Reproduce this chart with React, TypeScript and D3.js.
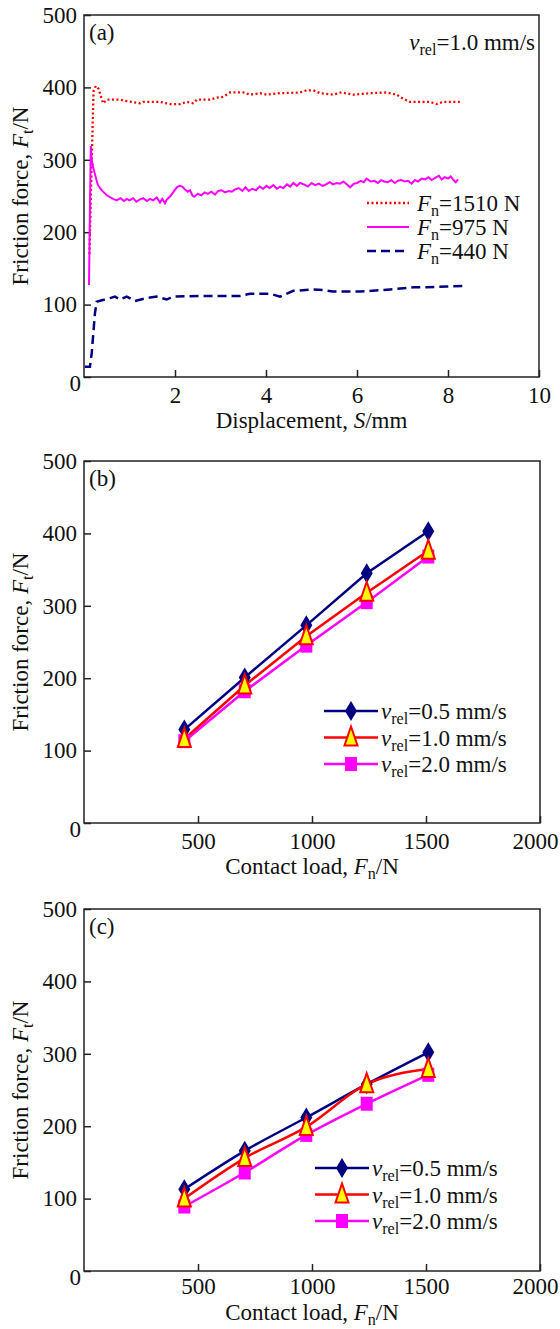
import React, { useEffect, useRef } from 'react';
import * as d3 from 'd3';

// (a) friction force vs displacement at v_rel = 1.0 mm/s
const redDisp = [0.12, 0.17, 0.21, 0.26, 0.32, 0.42, 0.5, 0.79, 0.94, 1.23, 1.3, 1.67, 1.89, 2.11, 2.26, 2.4, 2.48, 2.77, 2.92, 3.06, 3.21, 3.5, 3.65, 3.87, 4.01, 4.31, 4.75, 4.89, 5.04, 5.19, 5.47, 5.66, 5.92, 6.29, 6.65, 6.87, 7.0, 7.16, 7.6, 7.75, 7.89, 8.26];
const redForce = [170, 300, 395, 402, 398, 378, 383, 383, 381, 378, 380, 380, 377, 377, 380, 378, 383, 383, 386, 387, 393, 393, 390, 392, 390, 392, 393, 396, 396, 392, 390, 393, 390, 392, 393, 390, 385, 380, 380, 377, 380, 380];

const pinkDisp = [
  0.11, 0.13, 0.15, 0.17, 0.2, 0.25, 0.3, 0.36, 0.42, 0.5,
  0.58, 0.64, 0.72, 0.8, 0.88, 0.94, 1.0, 1.08, 1.15, 1.22,
  1.3, 1.38, 1.45, 1.52, 1.6, 1.67, 1.72, 1.78, 1.82, 1.9,
  1.97, 2.04, 2.1, 2.16, 2.22, 2.28, 2.33, 2.38, 2.42, 2.5,
  2.58, 2.65, 2.72, 2.8, 2.88, 2.95, 3.02, 3.1, 3.18, 3.25,
  3.32, 3.4, 3.48, 3.55, 3.62, 3.7, 3.78, 3.86, 3.94, 4.01,
  4.08, 4.16, 4.24, 4.31, 4.38, 4.46, 4.53, 4.6, 4.68, 4.75,
  4.83, 4.92, 5.0, 5.08, 5.16, 5.24, 5.32, 5.4, 5.47, 5.55,
  5.63, 5.7, 5.78, 5.85, 5.93, 6.0, 6.08, 6.15, 6.21, 6.3,
  6.38, 6.46, 6.53, 6.6, 6.68, 6.75, 6.83, 6.9, 6.97, 7.05,
  7.12, 7.2, 7.27, 7.34, 7.42, 7.5, 7.57, 7.64, 7.72, 7.8,
  7.86, 7.93, 8.0, 8.06, 8.12, 8.17, 8.22,
];
const pinkForce = [
  127, 230, 319, 300, 290, 278, 266, 260, 256, 251,
  248, 246, 244, 247, 243, 246, 244, 247, 242, 245,
  247, 243, 246, 244, 248, 241, 246, 240, 245, 250,
  256, 262, 264, 263, 259, 256, 258, 251, 249, 253,
  251, 255, 253, 256, 252, 257, 258, 255, 257, 256,
  259, 261, 257, 262, 257, 260, 258, 263, 260, 264,
  261, 265, 260, 263, 261, 266, 263, 268, 264, 268,
  266, 263, 268, 265, 267, 264, 266, 269, 266, 268,
  267, 270, 266, 262, 267, 268, 271, 269, 274, 270,
  271, 268, 272, 270, 269, 272, 268, 271, 272, 270,
  271, 267, 272, 270, 274, 273, 276, 272, 275, 278,
  273, 276, 274, 277, 272, 269, 273,
];

const navyDisp = [0.02, 0.13, 0.17, 0.24, 0.28, 0.39, 0.57, 0.68, 0.79, 0.94, 1.12, 1.38, 1.6, 1.82, 1.96, 2.55, 3.43, 3.65, 4.09, 4.31, 4.6, 5.04, 5.26, 5.47, 6.07, 6.73, 7.24, 7.53, 7.97, 8.41];
const navyForce = [14, 14, 33, 88, 104, 106, 109, 111, 107, 111, 105, 109, 111, 107, 111, 112, 112, 115, 115, 111, 119, 121, 120, 118, 118, 121, 124, 124, 125, 126];

const dispTicks = [2, 4, 6, 8, 10];
const forceTicks = [0, 100, 200, 300, 400, 500];
const loadTicks = [500, 1000, 1500, 2000];

// (b) and (c) friction force vs contact load
const loads = [440, 705, 975, 1240, 1510];
const b05 = [129, 201, 273, 345, 403];
const b10 = [116, 190, 258, 318, 376];
const b20 = [113, 182, 245, 305, 368];
const c05 = [113, 166, 212, 258, 302];
const c10 = [100, 156, 199, 258, 279];
const c20 = [89, 136, 188, 231, 271];

const FONT = '"Liberation Serif", "Times New Roman", serif';
const NAVY = '#000080';
const RED = '#ff0000';
const PINK = '#ff00ff';
const YELLOW = '#ffff00';
const FS = 23;

type Part = { t: string; it?: boolean; sub?: boolean };

function rich(text: any, parts: Part[]) {
  let down = false;
  parts.forEach((p) => {
    const ts = text.append('tspan').text(p.t);
    if (p.it) ts.attr('font-style', 'italic');
    if (p.sub) {
      ts.attr('font-size', FS * 0.7).attr('dy', FS * 0.22);
      down = true;
    } else if (down) {
      ts.attr('dy', -FS * 0.22);
      down = false;
    }
  });
}

const markerPath: Record<string, string> = {
  diamond: 'M0,-10L6,0L0,10L-6,0Z',
  tri: 'M0,-11L6.5,8L-6.5,8Z',
  square: 'M-6,-7H6V7H-6Z',
};

function drawFrame(svg: any, x: any, y: any, xTicks: number[], xTitle: Part[], tag: string, titleGap = 51, pad = 10) {
  const [x0, x1] = x.range();
  const [y0, y1] = y.range();

  const gx = svg.append('g')
    .attr('transform', `translate(0,${y0})`)
    .call(d3.axisBottom(x).tickValues(xTicks).tickFormat(d3.format('d')).tickSizeInner(-7).tickSizeOuter(0).tickPadding(pad));
  const gy = svg.append('g')
    .attr('transform', `translate(${x0},0)`)
    .call(d3.axisLeft(y).tickValues(forceTicks).tickSizeInner(-7).tickSizeOuter(0).tickPadding(7));

  [gx, gy].forEach((g) => {
    g.select('.domain').remove();
    g.selectAll('line').attr('stroke', '#222').attr('stroke-width', 1.5);
    g.selectAll('text').attr('font-family', FONT).attr('font-size', FS).attr('fill', '#111');
  });
  // corner "0" sits a bit low
  gy.selectAll('.tick text').filter((d: number) => d === 0).attr('dx', 4).attr('dy', '0.6em');
  gx.selectAll('.tick text').filter((d: number) => d === 2000).attr('dx', -5);

  svg.append('rect')
    .attr('x', x0).attr('y', y1)
    .attr('width', x1 - x0).attr('height', y0 - y1)
    .attr('fill', 'none').attr('stroke', '#222').attr('stroke-width', 1.5);

  const xt = svg.append('text')
    .attr('x', (x0 + x1) / 2).attr('y', y0 + titleGap)
    .attr('text-anchor', 'middle')
    .attr('font-family', FONT).attr('font-size', FS).attr('fill', '#111');
  rich(xt, xTitle);

  const yt = svg.append('text')
    .attr('transform', `translate(28,${(y0 + y1) / 2}) rotate(-90)`)
    .attr('text-anchor', 'middle')
    .attr('font-family', FONT).attr('font-size', FS).attr('fill', '#111');
  rich(yt, [{ t: 'Friction force, ' }, { t: 'F', it: true }, { t: 't', sub: true }, { t: '/N' }]);

  svg.append('text')
    .attr('x', x0 + 5).attr('y', y1 + 25)
    .attr('font-family', FONT).attr('font-size', FS).attr('fill', '#111')
    .text(tag);
}

function drawLoadPanel(svg: any, top: number, tag: string, values: number[][], curve: any, legend: { x1: number; x2: number; y: number }, titleGap: number, pad: number) {
  const x = d3.scaleLinear().domain([0, 2000]).range([84, 540]);
  const y = d3.scaleLinear().domain([0, 500]).range([top + 362, top]);
  drawFrame(svg, x, y, loadTicks, [{ t: 'Contact load, ' }, { t: 'F', it: true }, { t: 'n', sub: true }, { t: '/N' }], tag, titleGap, pad);

  const series = [
    { vals: values[0], color: NAVY, kind: 'diamond', label: '0.5', fill: NAVY, stroke: 'none' },
    { vals: values[2], color: PINK, kind: 'square', label: '2.0', fill: PINK, stroke: 'none' },
    { vals: values[1], color: RED, kind: 'tri', label: '1.0', fill: YELLOW, stroke: RED },
  ];

  const line = d3.line<number>()
    .x((_, i) => x(loads[i]))
    .y((d) => y(d))
    .curve(curve);

  series.forEach((s) => {
    svg.append('path')
      .datum(s.vals)
      .attr('fill', 'none')
      .attr('stroke', s.color)
      .attr('stroke-width', 2.5)
      .attr('d', line);
  });
  series.forEach((s) => {
    svg.selectAll(null)
      .data(s.vals)
      .enter()
      .append('path')
      .attr('d', markerPath[s.kind])
      .attr('transform', (d: number, i: number) => `translate(${x(loads[i])},${y(d)})`)
      .attr('fill', s.fill)
      .attr('stroke', s.stroke)
      .attr('stroke-width', 2);
  });

  // legend
  const order = [series[0], series[2], series[1]];
  order.forEach((s, i) => {
    const ly = legend.y + i * 26.5;
    svg.append('line')
      .attr('x1', legend.x1).attr('x2', legend.x2)
      .attr('y1', ly).attr('y2', ly)
      .attr('stroke', s.color).attr('stroke-width', 2.5);
    svg.append('path')
      .attr('d', markerPath[s.kind])
      .attr('transform', `translate(${(legend.x1 + legend.x2) / 2},${ly})`)
      .attr('fill', s.fill).attr('stroke', s.stroke).attr('stroke-width', 2);
    const t = svg.append('text')
      .attr('x', legend.x2 + 3).attr('y', ly + 8)
      .attr('font-family', FONT).attr('font-size', FS).attr('fill', '#111');
    rich(t, [{ t: 'v', it: true }, { t: 'rel', sub: true }, { t: `=${s.label} mm/s` }]);
  });
}

const App = () => {
  const svgRef = useRef<SVGSVGElement>(null);

  useEffect(() => {
    const svg = d3.select(svgRef.current);
    svg.selectAll('*').remove();

    // ---- panel (a)
    const xa = d3.scaleLinear().domain([0, 10]).range([84, 539]);
    const ya = d3.scaleLinear().domain([0, 500]).range([377, 15]);
    drawFrame(svg, xa, ya, dispTicks, [{ t: 'Displacement, ' }, { t: 'S', it: true }, { t: '/mm' }], '(a)');

    const lineA = d3.line<[number, number]>()
      .x((d) => xa(d[0]))
      .y((d) => ya(d[1]));

    const aSeries = [
      { xs: redDisp, ys: redForce, color: RED, dash: '2,2.5', width: 2.3, label: '1510' },
      { xs: pinkDisp, ys: pinkForce, color: PINK, dash: null, width: 2, label: '975' },
      { xs: navyDisp, ys: navyForce, color: NAVY, dash: '9,5', width: 2.5, label: '440' },
    ];

    aSeries.forEach((s, i) => {
      svg.append('path')
        .datum(s.xs.map((v, k) => [v, s.ys[k]] as [number, number]))
        .attr('fill', 'none')
        .attr('stroke', s.color)
        .attr('stroke-width', s.width)
        .attr('stroke-dasharray', s.dash)
        .attr('d', lineA);

      const ly = 203 + i * 24;
      svg.append('line')
        .attr('x1', 367).attr('x2', 409)
        .attr('y1', ly).attr('y2', ly)
        .attr('stroke', s.color).attr('stroke-width', s.width)
        .attr('stroke-dasharray', s.dash);
      const t = svg.append('text')
        .attr('x', 417).attr('y', ly + 8)
        .attr('font-family', FONT).attr('font-size', FS).attr('fill', '#111');
      rich(t, [{ t: 'F', it: true }, { t: 'n', sub: true }, { t: `=${s.label} N` }]);
    });

    const vt = svg.append('text')
      .attr('x', 535).attr('y', 50)
      .attr('text-anchor', 'end')
      .attr('font-family', FONT).attr('font-size', FS).attr('fill', '#111');
    rich(vt, [{ t: 'v', it: true }, { t: 'rel', sub: true }, { t: '=1.0 mm/s' }]);

    // ---- panels (b) and (c)
    drawLoadPanel(svg, 461, '(b)', [b05, b10, b20], d3.curveLinear, { x1: 324, x2: 378, y: 711 }, 51, 10);
    drawLoadPanel(svg, 909, '(c)', [c05, c10, c20], d3.curveMonotoneX, { x1: 315, x2: 369, y: 1168 }, 49, 7);
  }, []);

  return (
    <svg
      ref={svgRef}
      width={560}
      height={1329}
      style={{ position: 'absolute', left: 0, top: 0, background: '#fff' }}
    />
  );
};

export default App;
